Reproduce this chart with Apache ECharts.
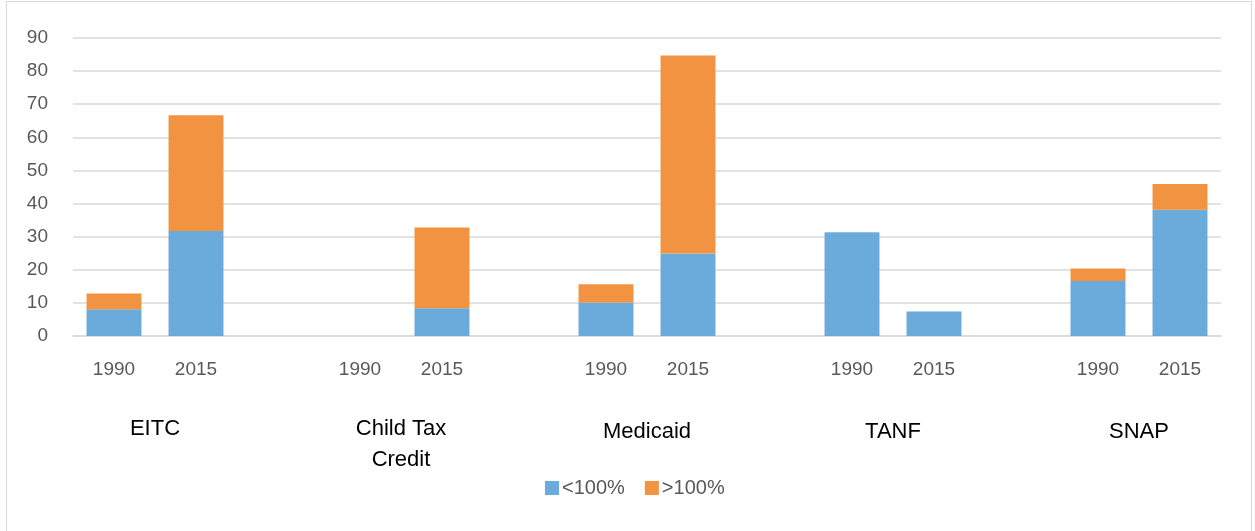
<!DOCTYPE html>
<html>
<head>
<meta charset="utf-8">
<script src="https://cdn.jsdelivr.net/npm/echarts@6/dist/echarts.min.js"></script>
<style>
  html, body { margin: 0; padding: 0; background: #fff; }
  #frame {
    position: absolute; left: 6px; top: 1px; width: 1246px; height: 540px;
    border: 1px solid #d9d9d9; box-sizing: border-box;
  }
  #chart { position: absolute; left: 0; top: 0; width: 1255px; height: 531px; }
</style>
</head>
<body>
<div id="frame"></div>
<div id="chart"></div>
<script>
// 14 slots: 1990, 2015, gap for each program
const years = ['1990', '2015', '', '1990', '2015', '', '1990', '2015', '', '1990', '2015', '', '1990', '2015'];
const programs = ['EITC', 'Child Tax\nCredit', 'Medicaid', 'TANF', 'SNAP'];
const programCenters = [1, 4, 7, 10, 13]; // in slot units
const below100 = [8.1, 31.7, null, 0, 8.4, null, 10.1, 24.9, null, 31.3, 7.4, null, 16.6, 38.1];
const above100 = [4.7, 35.0, null, 0, 24.4, null, 5.5, 59.8, null, 0, 0, null, 3.8, 7.8];

const chart = echarts.init(document.getElementById('chart'));

const option = {
  animation: false,
  textStyle: { fontFamily: 'Liberation Sans' },
  grid: { left: 73, right: 34, top: 38, bottom: 195 },
  legend: {
    left: 540,
    top: 473,
    icon: 'rect',
    itemWidth: 14,
    itemHeight: 14,
    itemGap: 20,
    textStyle: { fontSize: 20, color: '#595959', padding: [0, 0, 0, -2] },
    data: ['<100%', '>100%']
  },
  xAxis: [
    {
      type: 'category',
      data: years,
      axisLine: { lineStyle: { color: '#d9d9d9', width: 1.5 } },
      axisTick: { show: false },
      axisLabel: {
        fontSize: 19, color: '#595959', margin: 24, interval: 0
      }
    },
    {
      type: 'value',
      position: 'bottom',
      min: 0,
      max: 14,
      axisLine: { show: false },
      axisTick: { show: false },
      splitLine: { show: false },
      axisLabel: {
        customValues: programCenters,
        margin: 77,
        verticalAlign: 'top',
        formatter: function (v) {
          const i = programCenters.indexOf(v);
          if (i < 0) return '';
          return i < 2 ? '{a|' + programs[i].replace('\n', '}\n{a|') + '}' : '{b|' + programs[i] + '}';
        },
        rich: {
          a: { fontSize: 22, color: '#000', lineHeight: 31, fontFamily: 'Liberation Sans' },
          b: { fontSize: 22, color: '#000', lineHeight: 31, padding: [7, 0, 0, 0], fontFamily: 'Liberation Sans' }
        }
      }
    }
  ],
  yAxis: {
    type: 'value',
    min: 0,
    max: 90,
    interval: 10,
    axisLine: { show: false },
    axisTick: { show: false },
    axisLabel: { fontSize: 19, color: '#595959', margin: 25 },
    splitLine: { lineStyle: { color: '#d9d9d9', width: 1.5 } }
  },
  series: [
    {
      name: '<100%',
      type: 'bar',
      stack: 'total',
      barWidth: '67%',
      itemStyle: { color: '#6babdb' },
      data: below100
    },
    {
      name: '>100%',
      type: 'bar',
      stack: 'total',
      barWidth: '67%',
      itemStyle: { color: '#f29341' },
      data: above100
    }
  ]
};

chart.setOption(option);
</script>
</body>
</html>
